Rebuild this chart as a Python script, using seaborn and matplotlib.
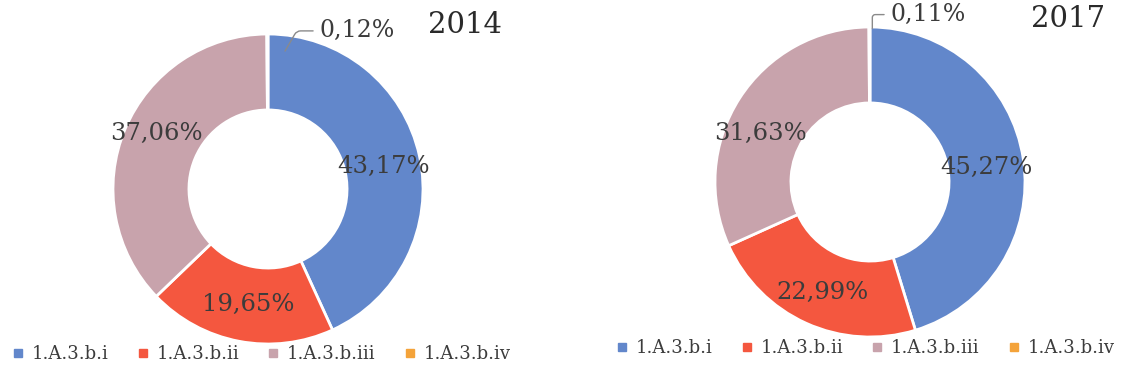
import matplotlib
matplotlib.use("Agg")
import numpy as np
import matplotlib.pyplot as plt
from matplotlib.lines import Line2D
import seaborn as sns

# Shares of road-transport emissions by subcategory
categories = ["1.A.3.b.i", "1.A.3.b.ii", "1.A.3.b.iii", "1.A.3.b.iv"]
years = ["2014", "2017"]
shares_2014 = [43.17, 19.65, 37.06, 0.12]
shares_2017 = [45.27, 22.99, 31.63, 0.11]

sns.set_theme(style="white")
plt.rcParams["font.family"] = ["DejaVu Serif"]

palette = sns.color_palette(["#6287CB", "#F4573F", "#C8A3AC", "#F4A33A"])
text_color = "#3c3c3c"

W, H = 1123, 376
fig = plt.figure(figsize=(W / 100, H / 100), dpi=100)
fig.patch.set_facecolor("white")


def fmt(v):
    return f"{v:.2f}".replace(".", ",") + "%"


def px_axes(cx, cy, r):
    return fig.add_axes([(cx - r) / W, (H - cy - r) / H, 2 * r / W, 2 * r / H])


panels = [
    dict(values=shares_2014, year=years[0], center=(268, 189), r=155,
         nudges=[(0, -3), (2, 0), (-3, 10)],
         small_xy=(0.11, 0.89), small_text=(0.33, 1.02),
         conn="angle,angleA=0,angleB=60,rad=4",
         title_xy=(465, 25), legend_xy=(262, 354)),
    dict(values=shares_2017, year=years[1], center=(870, 182), r=155,
         nudges=[(0, -3), (1, -3), (-10, -15)],
         small_xy=(0.015, 0.99), small_text=(0.13, 1.08),
         conn="angle,angleA=0,angleB=90,rad=3",
         title_xy=(1068, 19), legend_xy=(866, 348)),
]

for p in panels:
    ax = px_axes(*p["center"], p["r"])
    vals = p["values"]
    wedges, _ = ax.pie(
        vals, colors=palette, startangle=90, counterclock=False,
        radius=1.0, wedgeprops=dict(width=0.49, edgecolor="white", linewidth=2),
    )
    ax.set_xlim(-1, 1)
    ax.set_ylim(-1, 1)
    ax.set_aspect("equal")
    ax.axis("off")

    # value labels inside the ring for the three large slices
    for w, v, (dx, dy) in zip(wedges[:3], vals[:3], p["nudges"]):
        ang = np.deg2rad((w.theta1 + w.theta2) / 2)
        rr = 0.76
        ax.annotate(fmt(v), xy=(rr * np.cos(ang), rr * np.sin(ang)),
                    xytext=(dx * 0.72, dy * 0.72), textcoords="offset points",
                    ha="center", va="center", fontsize=17.5, color=text_color)

    # tiny slice labelled outside with a leader line
    ax.annotate(fmt(vals[3]), xy=p["small_xy"], xytext=p["small_text"],
                ha="left", va="center", fontsize=17, color=text_color,
                annotation_clip=False,
                arrowprops=dict(arrowstyle="-", color="#8a8a8a", lw=1,
                                connectionstyle=p["conn"], shrinkA=2, shrinkB=0))

    tx, ty = p["title_xy"]
    fig.text(tx / W, 1 - ty / H, p["year"], ha="center", va="center",
             fontsize=21, color="#2a2a2a")

    handles = [Line2D([], [], marker="s", linestyle="none", markersize=5.5,
                      markerfacecolor=c, markeredgecolor=c) for c in palette]
    lx, ly = p["legend_xy"]
    fig.legend(handles, categories, loc="center", bbox_to_anchor=(lx / W, 1 - ly / H),
               ncol=4, frameon=False, fontsize=13, handlelength=0.5,
               handletextpad=0.5, columnspacing=1.65, labelcolor=text_color)

fig.savefig("out.png", dpi=100, facecolor="white")
